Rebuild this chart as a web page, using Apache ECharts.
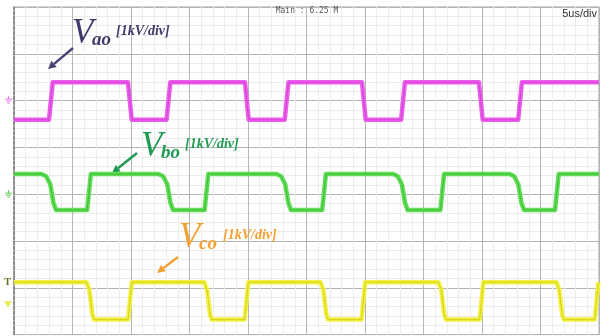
<!DOCTYPE html>
<html>
<head>
<meta charset="utf-8">
<script src="https://cdn.jsdelivr.net/npm/echarts@6/dist/echarts.min.js"></script>
<style>
  html, body { margin: 0; padding: 0; background: #ffffff; }
  #scope { width: 608px; height: 336px; }
</style>
</head>
<body>
<div id="scope"></div>
<script>
// ---- Acquisition settings ----
const timeDivs = 10;          // horizontal divisions
const usPerDiv = 5;           // 5 us/div
const voltDivs = 7;           // visible vertical divisions
const kvPerDiv = 1;           // 1 kV/div on every channel

// ---- Channel ground offsets (divisions above the bottom edge) ----
const vaoGround = 5.01;
const vboGround = 3.0;
const vcoGround = 0.65;

// ---- Channel levels in kV: [high, low] ----
const vaoLevels = [0.38, -0.42];
const vboLevels = [0.43, -0.34];
const vcoLevels = [0.47, -0.33];

// ---- Switching instants in us (each one toggles the level) ----
const vaoStartsHigh = false;
const vaoToggles = [3.15, 9.9, 13.2, 19.9, 23.3, 29.9, 33.25, 39.9, 43.25];

const vboStartsHigh = true;
const vboToggles = [3.25, 6.41, 13.25, 16.45, 23.33, 26.5, 33.3, 36.6, 43.25, 46.4];

const vcoStartsHigh = true;
const vcoToggles = [6.54, 9.91, 16.6, 19.87, 26.54, 29.86, 36.62, 39.96, 46.7, 49.79];

// ---- Edge shapes: [time offset in us, fraction of the swing] ----
const fastEdge = [[-0.16, 0], [0.16, 1]];
const roundedFall = [[-0.9, 0], [-0.5, 0.06], [-0.15, 0.28], [0.12, 0.8], [0.35, 1]];
const softFall = [[-0.35, 0], [-0.1, 0.2], [0.15, 0.85], [0.3, 1]];

function buildTrace(toggles, levels, startsHigh, riseShape, fallShape) {
  const tEnd = timeDivs * usPerDiv;
  let high = startsHigh;
  const pts = [[0, high ? levels[0] : levels[1]]];
  toggles.forEach(t => {
    const from = high ? levels[0] : levels[1];
    const to = high ? levels[1] : levels[0];
    const shape = high ? fallShape : riseShape;
    shape.forEach(([dt, f]) => {
      const x = t + dt;
      if (x >= 0 && x <= tEnd) pts.push([x, from + (to - from) * f]);
    });
    high = !high;
  });
  pts.push([tEnd, high ? levels[0] : levels[1]]);
  return pts;
}

const vaoData = buildTrace(vaoToggles, vaoLevels, vaoStartsHigh, fastEdge, fastEdge);
const vboData = buildTrace(vboToggles, vboLevels, vboStartsHigh, fastEdge, roundedFall);
const vcoData = buildTrace(vcoToggles, vcoLevels, vcoStartsHigh, fastEdge, softFall);

const channels = [
  { name: 'Vao', data: vaoData, ground: vaoGround, band: '#ec5cec', core: '#c030c0' },
  { name: 'Vbo', data: vboData, ground: vboGround, band: '#5ede52', core: '#2e9e2e' },
  { name: 'Vco', data: vcoData, ground: vcoGround, band: '#f3f140', core: '#bcb800' }
];

const chart = echarts.init(document.getElementById('scope'), null, { renderer: 'canvas' });

const gridAxis = {
  type: 'value', min: 0, max: voltDivs, interval: 1,
  axisLabel: { show: false }, axisTick: { show: false },
  axisLine: { show: true, lineStyle: { color: '#7a7a7a', width: 1.5, type: [3, 2] } },
  splitLine: { show: true, lineStyle: { color: '#b4b4b4', width: 1 } },
  minorTick: { show: false, splitNumber: 5 },
  minorSplitLine: { show: true, lineStyle: { color: '#ececec', width: 1 } }
};

const channelAxes = channels.map(ch => ({
  type: 'value', show: false,
  min: -ch.ground * kvPerDiv, max: (voltDivs - ch.ground) * kvPerDiv
}));

const series = [];
channels.forEach((ch, i) => {
  series.push({
    name: ch.name + ' band', type: 'line', xAxisIndex: 0, yAxisIndex: i + 1,
    data: ch.data, showSymbol: false, silent: true,
    lineStyle: { color: ch.band, width: 4.5, join: 'round' }
  });
  series.push({
    name: ch.name, type: 'line', xAxisIndex: 0, yAxisIndex: i + 1,
    data: ch.data, showSymbol: false, silent: true,
    lineStyle: { color: ch.core, width: 1, opacity: 0.55 }
  });
});

chart.setOption({
  animation: false,
  backgroundColor: '#ffffff',
  grid: { left: 14, top: 7, width: 585, height: 327.6, show: true, borderColor: '#a0a0a0', borderWidth: 1, backgroundColor: 'transparent' },
  xAxis: {
    type: 'value', min: 0, max: timeDivs * usPerDiv, interval: usPerDiv,
    axisLabel: { show: false }, axisTick: { show: false }, axisLine: { show: false },
    splitLine: { show: true, lineStyle: { color: '#b4b4b4', width: 1 } },
    minorTick: { show: false, splitNumber: 5 },
    minorSplitLine: { show: true, lineStyle: { color: '#ececec', width: 1 } }
  },
  yAxis: [gridAxis].concat(channelAxes),
  series: series
});

// ---- Annotations ----
function arrow(tail, head, color) {
  const dx = head[0] - tail[0], dy = head[1] - tail[1];
  const len = Math.hypot(dx, dy), ux = dx / len, uy = dy / len;
  const hl = 8, hw = 4;
  const bx = head[0] - ux * hl, by = head[1] - uy * hl;
  return [
    { type: 'line', shape: { x1: tail[0], y1: tail[1], x2: bx, y2: by }, style: { stroke: color, lineWidth: 2.4 } },
    { type: 'polygon', shape: { points: [head, [bx - uy * hw, by + ux * hw], [bx + uy * hw, by - ux * hw]] }, style: { fill: color } }
  ];
}

function label(x, y, main, sub, unit, color) {
  return [
    { type: 'text', x: x, y: y, style: { text: main, font: 'italic 35px "Liberation Serif"', fill: color, textVerticalAlign: 'middle' } },
    { type: 'text', x: x + 20, y: y + 6, style: { text: sub, font: 'italic bold 19px "Liberation Serif"', fill: color, textVerticalAlign: 'middle' } },
    { type: 'text', x: x + 44, y: y - 3, style: { text: unit, font: 'italic bold 14px "Liberation Serif"', fill: color, textVerticalAlign: 'middle' } }
  ];
}

function groundMark(cx, cy, color) {
  return [
    { type: 'line', shape: { x1: cx, y1: cy - 4, x2: cx, y2: cy - 1 }, style: { stroke: color, lineWidth: 1 } },
    { type: 'line', shape: { x1: cx - 3.5, y1: cy - 1, x2: cx + 3.5, y2: cy - 1 }, style: { stroke: color, lineWidth: 1 } },
    { type: 'line', shape: { x1: cx - 2.5, y1: cy + 1, x2: cx + 2.5, y2: cy + 1 }, style: { stroke: color, lineWidth: 1 } },
    { type: 'line', shape: { x1: cx - 1.2, y1: cy + 3, x2: cx + 1.2, y2: cy + 3 }, style: { stroke: color, lineWidth: 1 } }
  ];
}

const gy = channels.map((ch, i) => chart.convertToPixel({ yAxisIndex: i + 1 }, 0));
const trigY = chart.convertToPixel({ yAxisIndex: 3 }, vcoLevels[0]);

let graphics = [];
graphics = graphics.concat(label(72, 34, 'V', 'ao', '[1kV/div]', '#3f3a6a'));
graphics = graphics.concat(arrow([73, 48], [48, 69], '#4a4472'));
graphics = graphics.concat(label(141, 147, 'V', 'bo', '[1kV/div]', '#1f9a52'));
graphics = graphics.concat(arrow([137, 153], [112, 173], '#1f9a52'));
graphics = graphics.concat(label(179, 238, 'V', 'co', '[1kV/div]', '#f4a032'));
graphics = graphics.concat(arrow([178, 257], [157, 273], '#f4a032'));
graphics = graphics.concat(groundMark(8.5, gy[0], '#e27ae2'));
graphics = graphics.concat(groundMark(8.5, gy[1], '#58c858'));
graphics.push({ type: 'polygon', shape: { points: [[4, gy[2] - 3], [12, gy[2] - 3], [8, gy[2] + 3]] }, style: { fill: '#eeea50' } });
graphics.push({ type: 'text', x: 7.5, y: trigY, style: { text: 'T', font: 'bold 10px "Liberation Serif"', fill: '#6b6a20', textAlign: 'center', textVerticalAlign: 'middle' } });
graphics.push({ type: 'text', x: 307, y: 11, style: { text: 'Main : 6.25 M', font: '8px "DejaVu Sans Mono"', fill: '#555555', textAlign: 'center', textVerticalAlign: 'middle' } });
graphics.push({ type: 'text', x: 597, y: 14, style: { text: '5us/div', font: '11px "Liberation Sans Narrow", "Liberation Sans"', fill: '#333333', textAlign: 'right', textVerticalAlign: 'middle' } });

chart.setOption({ graphic: graphics });
</script>
</body>
</html>
